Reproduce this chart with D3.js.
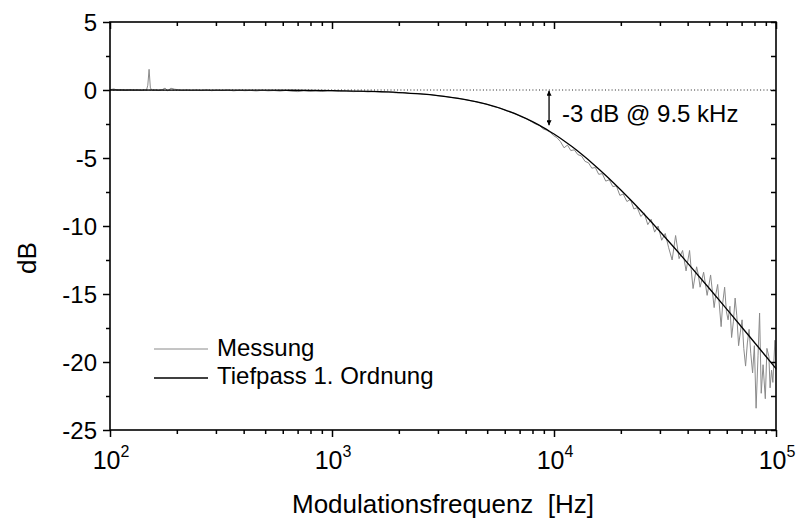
<!DOCTYPE html>
<html>
<head>
<meta charset="utf-8">
<script src="https://cdn.jsdelivr.net/npm/d3@7"></script>
<style>
    body { margin: 0; background: #fff; }
    svg { font-family: "Liberation Sans", Arial, sans-serif; }
</style>
</head>
<body>
<div id="chart"></div>
<script>
var messFreq = [100,104,108,113,118,123,128,133,138,143,146,148,150,152,155,160,166,172,177,182,
    188,195,203,212,222,233,245,258,272,287,303,320,340,360,382,405,430,456,485,515,
    548,583,620,660,702,747,795,846,900,955,
    1000,1080,1160,1250,1350,1450,1560,1680,1800,1940,2080,2240,2400,2580,2780,2990,3210,3450,3710,3990,
    4290,4610,4950,5320,5720,6150,6610,7100,7550,
    8000,8300,8600,8900,9250,9600,9950,10300,10700,11100,11500,11900,12350,12800,13300,13800,14300,14800,15350,15900,
    16500,17100,17750,18400,19100,19800,20500,21300,22100,22900,23700,24600,25500,26450,27400,28400,29450,30550,31700,32850,
    34050,35300,36600,37950,39350,40800,41500,42300,43900,44700,45500,47200,48950,49800,50750,52650,53600,54600,56600,57600,
    58700,59800,60850,62000,63100,64300,65450,66600,67850,69100,70350,71600,72950,74300,75650,77000,78450,79900,
    81350,83000,84350,85800,87450,89500,91000,92900,94050,95500,96800,98900,100000];
var messDb = [0.02,0.08,-0.01,0.00,-0.03,0.01,-0.02,0.00,-0.03,0.01,-0.01,0.35,1.52,0.15,-0.02,0.00,-0.04,0.03,0.14,-0.06,
    0.13,0.06,0.02,-0.02,0.01,-0.03,0.00,-0.04,0.01,-0.05,-0.01,-0.04,0.00,-0.06,-0.02,-0.05,-0.03,-0.07,-0.02,-0.06,
    -0.04,-0.08,-0.03,-0.09,-0.12,-0.05,-0.10,-0.07,-0.11,-0.06,
    -0.06,-0.10,-0.08,-0.12,-0.09,-0.14,-0.12,-0.17,-0.15,-0.21,-0.19,-0.26,-0.25,-0.31,-0.34,-0.42,-0.46,-0.55,-0.60,-0.72,
    -0.80,-0.94,-1.03,-1.21,-1.33,-1.55,-1.70,-1.96,-2.12,
    -2.38,-2.52,-2.60,-2.85,-2.95,-3.10,-3.35,-3.50,-3.80,-4.25,-4.05,-4.45,-4.40,-4.75,-4.85,-5.25,-5.35,-5.75,-5.70,-6.20,
    -6.15,-6.70,-6.60,-7.10,-7.05,-7.75,-7.65,-8.20,-8.05,-8.75,-8.65,-9.30,-9.05,-9.90,-9.50,-10.45,-10.00,-11.05,-10.55,-11.60,
    -12.50,-10.70,-12.40,-11.80,-13.30,-11.80,-13.20,-14.60,-13.00,-13.60,-14.50,-13.40,-15.10,-14.40,-13.60,-16.00,-15.00,-14.30,-17.40,-15.60,
    -14.50,-16.30,-16.90,-15.90,-18.20,-17.00,-15.30,-16.60,-18.80,-17.80,-16.90,-19.00,-20.30,-18.60,-17.60,-19.40,-20.80,-18.80,
    -23.40,-19.50,-16.40,-22.30,-20.20,-22.70,-19.00,-19.60,-21.90,-20.60,-21.50,-18.40,-20.60];

// first order lowpass (black)
var fitFreq = [100,200,500,1000,1500,2000,2500,3000,3500,4000,4500,5000,6000,7000,8000,9000,9500,10000,11000,12000,
    13500,15000,17500,20000,22500,25000,30000,35000,40000,50000,60000,70000,80000,90000,100000];
var fitDb = [0.000,-0.002,-0.012,-0.048,-0.107,-0.188,-0.291,-0.413,-0.553,-0.709,-0.879,-1.062,-1.458,-1.883,-2.328,-2.782,-3.010,-3.239,-3.693,-4.142,
    -4.799,-5.433,-6.428,-7.350,-8.202,-8.990,-10.403,-11.636,-12.725,-14.579,-16.116,-17.427,-18.568,-19.579,-20.484];

var yTicks = [5, 0, -5, -10, -15, -20, -25];
var yMinor = [2.5, -2.5, -7.5, -12.5, -17.5, -22.5];
var xExp = [2, 3, 4, 5];
var legendNames = ["Messung", "Tiefpass 1. Ordnung"];
var cutoff = 9500;

var w = 796, h = 522;
var pLeft = 110, pRight = 776, pTop = 22, pBottom = 430;

var svg = d3.select("#chart").append("svg")
    .attr("width", w)
    .attr("height", h);

var xScale = d3.scaleLog().domain([100, 100000]).range([pLeft, pRight]);
var yScale = d3.scaleLinear().domain([-25, 5]).range([pBottom, pTop]);

var xMinor = [];
xExp.slice(0, 3).forEach(function(e) {
    for (var m = 2; m < 10; m++) xMinor.push(m * Math.pow(10, e));
});
var xMajor = xExp.map(function(e) { return Math.pow(10, e); });

// 0 dB reference, dotted
svg.append("line")
    .attr("x1", xScale(100)).attr("x2", xScale(100000))
    .attr("y1", yScale(0)).attr("y2", yScale(0))
    .attr("stroke", "#222")
    .attr("stroke-width", 1)
    .attr("stroke-dasharray", "1,2.3");

var mess = messFreq.map(function(f, i) { return [f, messDb[i]]; });
var fit = fitFreq.map(function(f, i) { return [f, fitDb[i]]; });

var messLine = d3.line()
    .x(function(d) { return xScale(d[0]); })
    .y(function(d) { return yScale(d[1]); });

var fitLine = d3.line()
    .curve(d3.curveMonotoneX)
    .x(function(d) { return xScale(d[0]); })
    .y(function(d) { return yScale(d[1]); });

svg.append("path")
    .datum(mess)
    .attr("d", messLine)
    .attr("fill", "none")
    .attr("stroke", "#8a8a8a")
    .attr("stroke-width", 1);

svg.append("path")
    .datum(fit)
    .attr("d", fitLine)
    .attr("fill", "none")
    .attr("stroke", "#000")
    .attr("stroke-width", 1.3);

// axes: left/bottom ticks out, top/right ticks in
function tickAxis(axis, vals, size) {
    return axis.tickValues(vals).tickSize(size).tickFormat("");
}
function addAxis(axis, tr) {
    var g = svg.append("g").attr("transform", tr).call(axis);
    g.select(".domain").remove();
    g.selectAll("line").attr("stroke", "#000").attr("stroke-width", 1.5);
    return g;
}
addAxis(tickAxis(d3.axisBottom(xScale), xMajor, 7), "translate(0," + pBottom + ")");
addAxis(tickAxis(d3.axisBottom(xScale), xMinor, 4), "translate(0," + pBottom + ")");
addAxis(tickAxis(d3.axisBottom(xScale), xMajor, 7), "translate(0," + pTop + ")");
addAxis(tickAxis(d3.axisBottom(xScale), xMinor, 4), "translate(0," + pTop + ")");
addAxis(tickAxis(d3.axisLeft(yScale), yTicks, 7), "translate(" + pLeft + ",0)");
addAxis(tickAxis(d3.axisLeft(yScale), yMinor, 4), "translate(" + pLeft + ",0)");
addAxis(tickAxis(d3.axisLeft(yScale), yTicks, 5), "translate(" + pRight + ",0)");
addAxis(tickAxis(d3.axisLeft(yScale), yMinor, 5), "translate(" + pRight + ",0)");

svg.append("rect")
    .attr("x", pLeft).attr("y", pTop)
    .attr("width", pRight - pLeft).attr("height", pBottom - pTop)
    .attr("fill", "none")
    .attr("stroke", "#000")
    .attr("stroke-width", 1.6);

// tick labels
svg.selectAll(".ylab")
    .data(yTicks)
    .enter().append("text")
    .attr("class", "ylab")
    .attr("x", pLeft - 13)
    .attr("y", function(d) { return yScale(d); })
    .attr("dy", "0.36em")
    .attr("text-anchor", "end")
    .attr("font-size", 24)
    .text(function(d) { return d; });

var xl = svg.selectAll(".xlab")
    .data(xExp)
    .enter().append("text")
    .attr("class", "xlab")
    .attr("x", function(d) { return xScale(Math.pow(10, d)) + 1; })
    .attr("y", 469)
    .attr("text-anchor", "middle")
    .attr("font-size", 25);
xl.append("tspan").text("10");
xl.append("tspan")
    .attr("dy", -12)
    .attr("font-size", 16)
    .text(function(d) { return d; });

// axis titles
svg.append("text")
    .attr("x", (pLeft + pRight) / 2)
    .attr("y", 513)
    .attr("text-anchor", "middle")
    .attr("font-size", 26)
    .style("white-space", "pre")
    .text("Modulationsfrequenz  [Hz]");

svg.append("text")
    .attr("transform", "translate(36,258) rotate(-90)")
    .attr("text-anchor", "middle")
    .attr("font-size", 26)
    .text("dB");

// -3 dB marker
var defs = svg.append("defs");
defs.append("marker")
    .attr("id", "head")
    .attr("viewBox", "0 0 10 10")
    .attr("refX", 10).attr("refY", 5)
    .attr("markerWidth", 5).attr("markerHeight", 5)
    .attr("markerUnits", "userSpaceOnUse")
    .attr("orient", "auto-start-reverse")
    .append("path")
    .attr("d", "M0,0 L10,5 L0,10 z")
    .attr("fill", "#000");

svg.append("line")
    .attr("x1", xScale(cutoff)).attr("x2", xScale(cutoff))
    .attr("y1", yScale(-0.05)).attr("y2", yScale(-2.6))
    .attr("stroke", "#000")
    .attr("stroke-width", 1.3)
    .attr("marker-start", "url(#head)")
    .attr("marker-end", "url(#head)");

svg.append("text")
    .attr("x", 562)
    .attr("y", 122)
    .attr("font-size", 24)
    .text("-3 dB @ 9.5 kHz");

// legend
var leg = svg.append("g");
var legColors = ["#8a8a8a", "#000"];
var legY = [349, 378];
legendNames.forEach(function(name, i) {
    leg.append("line")
        .attr("x1", 154).attr("x2", 208)
        .attr("y1", legY[i]).attr("y2", legY[i])
        .attr("stroke", legColors[i])
        .attr("stroke-width", i == 0 ? 1 : 1.3);
    leg.append("text")
        .attr("x", 217)
        .attr("y", legY[i] + 7 + (i == 0 ? 0 : -1))
        .attr("font-size", 24)
        .text(name);
});
</script>
</body>
</html>
